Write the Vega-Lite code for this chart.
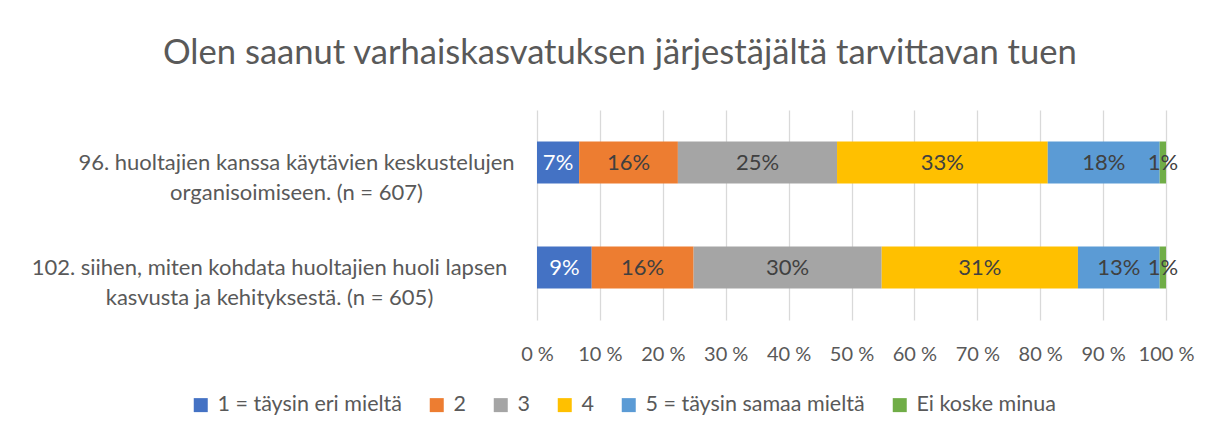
{
  "$schema": "https://vega.github.io/schema/vega-lite/v6.json",
  "width": 629,
  "height": 210,
  "autosize": {"type": "none"},
  "padding": {"left": 537, "top": 110, "right": 46, "bottom": 116},
  "background": "white",
  "config": {
    "view": {"stroke": null},
    "font": "Lato"
  },
  "title": {
    "text": "Olen saanut varhaiskasvatuksen järjestäjältä tarvittavan tuen",
    "fontSize": 34.6,
    "fontWeight": "normal",
    "color": "#595959",
    "anchor": "start",
    "frame": "group",
    "dx": -374,
    "offset": 38
  },
  "data": {
    "values": [
      {"q": "96. huoltajien kanssa käytävien keskustelujen|organisoimiseen. (n = 607)", "cat": "1 = täysin eri mieltä", "k": 1, "v": 6.7, "lbl": "7%"},
      {"q": "96. huoltajien kanssa käytävien keskustelujen|organisoimiseen. (n = 607)", "cat": "2", "k": 2, "v": 15.7, "lbl": "16%"},
      {"q": "96. huoltajien kanssa käytävien keskustelujen|organisoimiseen. (n = 607)", "cat": "3", "k": 3, "v": 25.3, "lbl": "25%"},
      {"q": "96. huoltajien kanssa käytävien keskustelujen|organisoimiseen. (n = 607)", "cat": "4", "k": 4, "v": 33.5, "lbl": "33%"},
      {"q": "96. huoltajien kanssa käytävien keskustelujen|organisoimiseen. (n = 607)", "cat": "5 = täysin samaa mieltä", "k": 5, "v": 17.8, "lbl": "18%"},
      {"q": "96. huoltajien kanssa käytävien keskustelujen|organisoimiseen. (n = 607)", "cat": "Ei koske minua", "k": 6, "v": 1.0, "lbl": "1%"},
      {"q": "102. siihen, miten kohdata huoltajien huoli lapsen|kasvusta ja kehityksestä. (n = 605)", "cat": "1 = täysin eri mieltä", "k": 1, "v": 8.7, "lbl": "9%"},
      {"q": "102. siihen, miten kohdata huoltajien huoli lapsen|kasvusta ja kehityksestä. (n = 605)", "cat": "2", "k": 2, "v": 16.2, "lbl": "16%"},
      {"q": "102. siihen, miten kohdata huoltajien huoli lapsen|kasvusta ja kehityksestä. (n = 605)", "cat": "3", "k": 3, "v": 29.9, "lbl": "30%"},
      {"q": "102. siihen, miten kohdata huoltajien huoli lapsen|kasvusta ja kehityksestä. (n = 605)", "cat": "4", "k": 4, "v": 31.2, "lbl": "31%"},
      {"q": "102. siihen, miten kohdata huoltajien huoli lapsen|kasvusta ja kehityksestä. (n = 605)", "cat": "5 = täysin samaa mieltä", "k": 5, "v": 13.0, "lbl": "13%"},
      {"q": "102. siihen, miten kohdata huoltajien huoli lapsen|kasvusta ja kehityksestä. (n = 605)", "cat": "Ei koske minua", "k": 6, "v": 1.0, "lbl": "1%"}
    ]
  },
  "transform": [
    {"stack": "v", "groupby": ["q"], "sort": [{"field": "k", "order": "ascending"}], "as": ["x0", "x1"]},
    {"calculate": "(datum.x0 + datum.x1) / 2", "as": "mid"}
  ],
  "encoding": {
    "y": {
      "field": "q",
      "type": "nominal",
      "sort": null,
      "title": null,
      "scale": {"paddingInner": 0, "paddingOuter": 0},
      "axis": {
        "domain": false,
        "ticks": false,
        "labelExpr": "split(datum.label, '|')",
        "labelAlign": "center",
        "labelBaseline": "middle",
        "labelPadding": {"condition": {"test": "indexof(datum.value, '96.') == 0", "value": 241}, "value": 268},
        "labelFontSize": 22,
        "labelColor": "#595959",
        "labelLineHeight": 30,
        "labelLimit": 700
      }
    }
  },
  "layer": [
    {
      "mark": {"type": "bar", "size": 42},
      "encoding": {
        "x": {
          "field": "x0",
          "type": "quantitative",
          "title": null,
          "scale": {"domain": [0, 100], "nice": false},
          "axis": {
            "values": [0, 10, 20, 30, 40, 50, 60, 70, 80, 90, 100],
            "labelExpr": "datum.value + ' %'",
            "labelOverlap": false,
            "labelFlush": false,
            "labelBound": false,
            "domain": false,
            "ticks": false,
            "grid": true,
            "gridColor": "#D9D9D9",
            "gridWidth": 1.3,
            "labelFontSize": 20,
            "labelColor": "#595959",
            "labelPadding": 24
          }
        },
        "x2": {"field": "x1"},
        "color": {
          "field": "cat",
          "type": "nominal",
          "title": null,
          "sort": ["1 = täysin eri mieltä", "2", "3", "4", "5 = täysin samaa mieltä", "Ei koske minua"],
          "scale": {
            "domain": ["1 = täysin eri mieltä", "2", "3", "4", "5 = täysin samaa mieltä", "Ei koske minua"],
            "range": ["#4472C4", "#ED7D31", "#A5A5A5", "#FFC000", "#5B9BD5", "#70AD47"]
          },
          "legend": {
            "orient": "none",
            "direction": "horizontal",
            "legendX": -347,
            "legendY": 284,
            "symbolType": "square",
            "symbolSize": 196,
            "symbolStrokeWidth": 0,
            "labelFontSize": 21.5,
            "labelColor": "#595959",
            "labelLimit": 400,
            "columnPadding": 24,
            "labelOffset": 6
          }
        }
      }
    },
    {
      "mark": {"type": "text", "fontSize": 22, "baseline": "middle", "align": "center"},
      "encoding": {
        "x": {"field": "mid", "type": "quantitative"},
        "text": {"field": "lbl"},
        "color": {
          "condition": {"test": "datum.k == 1", "value": "white"},
          "value": "#404040"
        }
      }
    }
  ]
}
